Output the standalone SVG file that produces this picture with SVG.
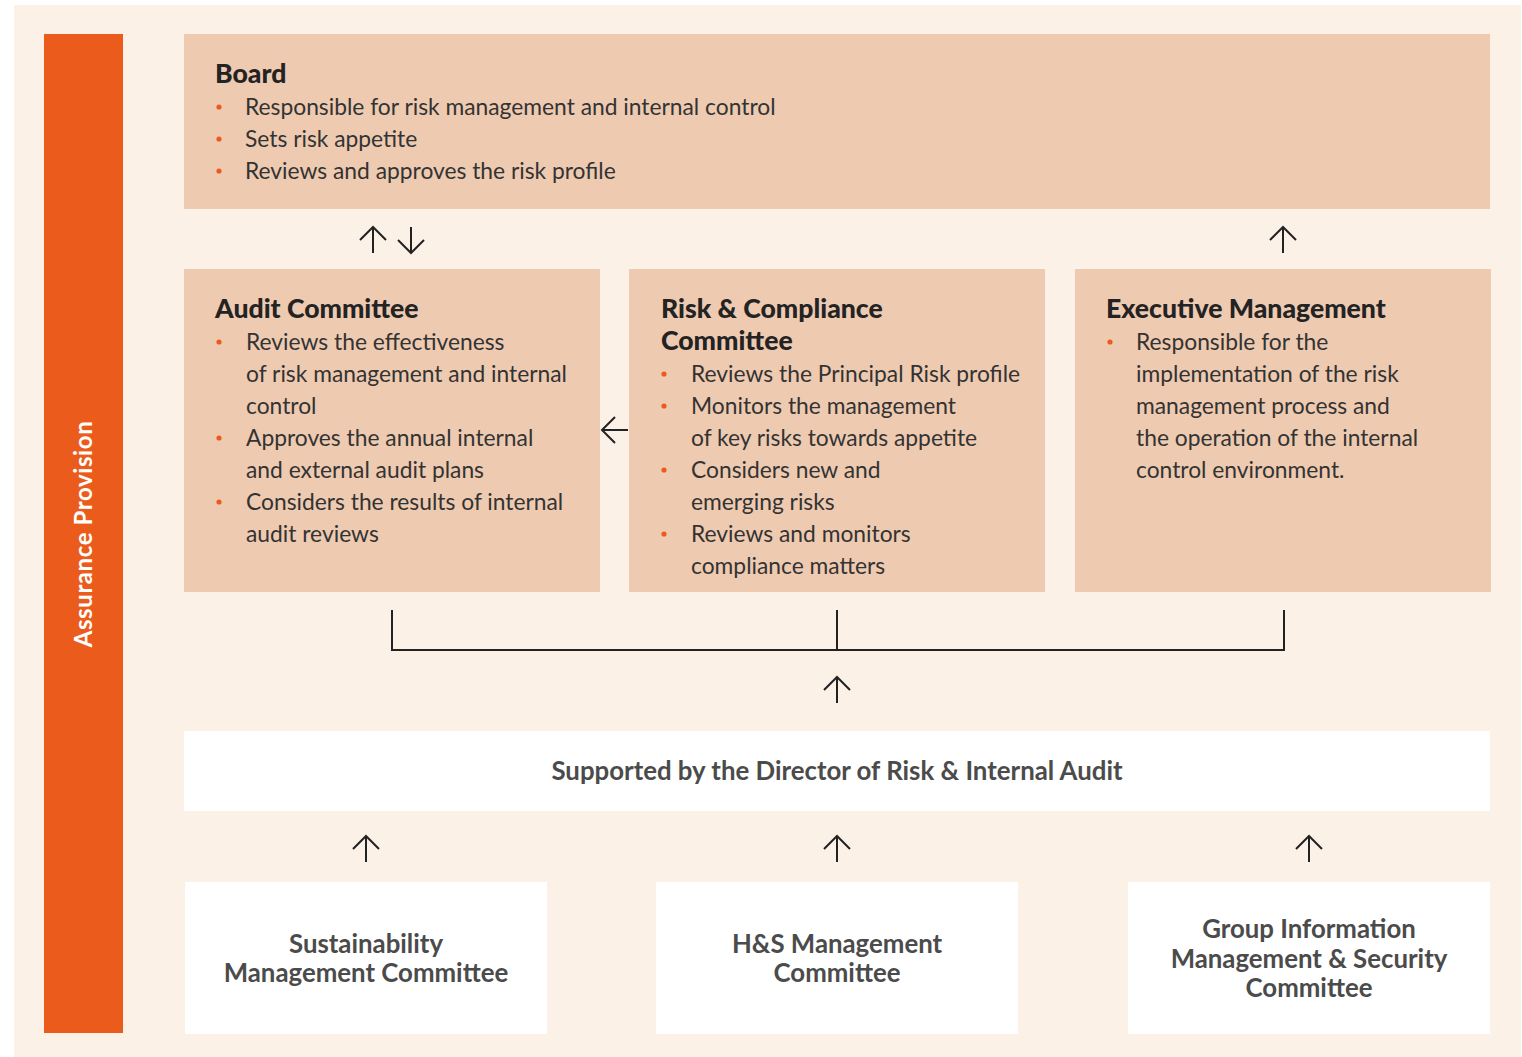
<svg xmlns="http://www.w3.org/2000/svg" width="1522" height="1057" viewBox="0 0 1522 1057">
  <style>
    .panel { fill: #FCF1E7; }
    .box { fill: #EECAB1; }
    .wbox { fill: #FFFFFF; }
    .title { font-family: Lato, "Liberation Sans", sans-serif; font-weight: 900; font-size: 26.6px; fill: #232323; }
    .item { font-family: Lato, "Liberation Sans", sans-serif; font-weight: 400; font-size: 22.8px; fill: #333333; }
    .dot { fill: #EB5C1C; }
    .label { font-family: Lato, "Liberation Sans", sans-serif; font-weight: 700; font-size: 25.8px; fill: #4B4B4B; text-anchor: middle; }
    .side { font-family: Lato, "Liberation Sans", sans-serif; font-weight: 700; font-size: 24px; letter-spacing: 0.6px; fill: #FFFFFF; text-anchor: middle; }
    .link { fill: none; stroke: #222222; stroke-width: 2; }
  </style>
  <defs>
    <!-- one up-pointing arrow glyph, rotated/placed with transforms -->
    <path id="arrowUp" d="M0,0 V26 M-13,13 L0,0 L13,13" fill="none" stroke="#222222" stroke-width="2"/>
  </defs>

  <rect width="1522" height="1057" fill="#FFFFFF"/>
  <rect class="panel" x="14" y="5" width="1507" height="1052"/>

  <!-- side band -->
  <g id="assurance-provision">
    <rect x="44" y="34" width="79" height="999" fill="#EB5C1C"/>
    <text class="side" transform="translate(92,534) rotate(-90)">Assurance Provision</text>
  </g>

  <g id="board">
    <rect class="box" x="184" y="34" width="1306" height="175"/>
    <text class="title" x="215" y="83">Board</text>
    <circle class="dot" cx="219" cy="107" r="2.6"/>
    <circle class="dot" cx="219" cy="139" r="2.6"/>
    <circle class="dot" cx="219" cy="171" r="2.6"/>
    <text class="item" x="245" y="115">Responsible for risk management and internal control</text>
    <text class="item" x="245" y="147">Sets risk appetite</text>
    <text class="item" x="245" y="179">Reviews and approves the risk profile</text>
  </g>

  <g id="audit-committee">
    <rect class="box" x="184" y="269" width="416" height="323"/>
    <text class="title" x="215" y="318">Audit Committee</text>
    <circle class="dot" cx="219" cy="342" r="2.6"/>
    <circle class="dot" cx="219" cy="438" r="2.6"/>
    <circle class="dot" cx="219" cy="502" r="2.6"/>
    <text class="item" x="246" y="350">Reviews the effectiveness</text>
    <text class="item" x="246" y="382">of risk management and internal</text>
    <text class="item" x="246" y="414">control</text>
    <text class="item" x="246" y="446">Approves the annual internal</text>
    <text class="item" x="246" y="478">and external audit plans</text>
    <text class="item" x="246" y="510">Considers the results of internal</text>
    <text class="item" x="246" y="542">audit reviews</text>
  </g>

  <g id="risk-compliance-committee">
    <rect class="box" x="629" y="269" width="416" height="323"/>
    <text class="title" x="661" y="318">Risk &amp; Compliance</text>
    <text class="title" x="661" y="350">Committee</text>
    <circle class="dot" cx="664" cy="374" r="2.6"/>
    <circle class="dot" cx="664" cy="406" r="2.6"/>
    <circle class="dot" cx="664" cy="470" r="2.6"/>
    <circle class="dot" cx="664" cy="534" r="2.6"/>
    <text class="item" x="691" y="382">Reviews the Principal Risk profile</text>
    <text class="item" x="691" y="414">Monitors the management</text>
    <text class="item" x="691" y="446">of key risks towards appetite</text>
    <text class="item" x="691" y="478">Considers new and</text>
    <text class="item" x="691" y="510">emerging risks</text>
    <text class="item" x="691" y="542">Reviews and monitors</text>
    <text class="item" x="691" y="574">compliance matters</text>
  </g>

  <g id="executive-management">
    <rect class="box" x="1075" y="269" width="416" height="323"/>
    <text class="title" x="1106" y="318">Executive Management</text>
    <circle class="dot" cx="1110" cy="342" r="2.6"/>
    <text class="item" x="1136" y="350">Responsible for the</text>
    <text class="item" x="1136" y="382">implementation of the risk</text>
    <text class="item" x="1136" y="414">management process and</text>
    <text class="item" x="1136" y="446">the operation of the internal</text>
    <text class="item" x="1136" y="478">control environment.</text>
  </g>

  <g id="director-risk-internal-audit">
    <rect class="wbox" x="184" y="731" width="1306" height="80"/>
    <text class="label" x="837" y="780">Supported by the Director of Risk &amp; Internal Audit</text>
  </g>

  <g id="sustainability-committee">
    <rect class="wbox" x="185" y="882" width="362" height="152"/>
    <text class="label" x="366" y="953">Sustainability</text>
    <text class="label" x="366" y="982">Management Committee</text>
  </g>

  <g id="hs-management-committee">
    <rect class="wbox" x="656" y="882" width="362" height="152"/>
    <text class="label" x="837" y="953">H&amp;S Management</text>
    <text class="label" x="837" y="982">Committee</text>
  </g>

  <g id="group-information-committee">
    <rect class="wbox" x="1128" y="882" width="362" height="152"/>
    <text class="label" x="1309" y="938">Group Information</text>
    <text class="label" x="1309" y="968">Management &amp; Security</text>
    <text class="label" x="1309" y="997">Committee</text>
  </g>

  <g id="connectors">
    <!-- board <-> audit committee -->
    <use href="#arrowUp" x="373" y="227"/>
    <use href="#arrowUp" transform="translate(411,253) rotate(180)"/>
    <!-- executive management -> board -->
    <use href="#arrowUp" x="1283" y="227"/>
    <!-- risk & compliance -> audit committee -->
    <use href="#arrowUp" transform="translate(602,430) rotate(-90)"/>
    <!-- bracket joining the three committees -->
    <path class="link" d="M392,610 V650 H1284 V610 M837,610 V650"/>
    <use href="#arrowUp" x="837" y="677"/>
    <!-- sub-committees -> director -->
    <use href="#arrowUp" x="366" y="836"/>
    <use href="#arrowUp" x="837" y="836"/>
    <use href="#arrowUp" x="1309" y="836"/>
  </g>
</svg>
